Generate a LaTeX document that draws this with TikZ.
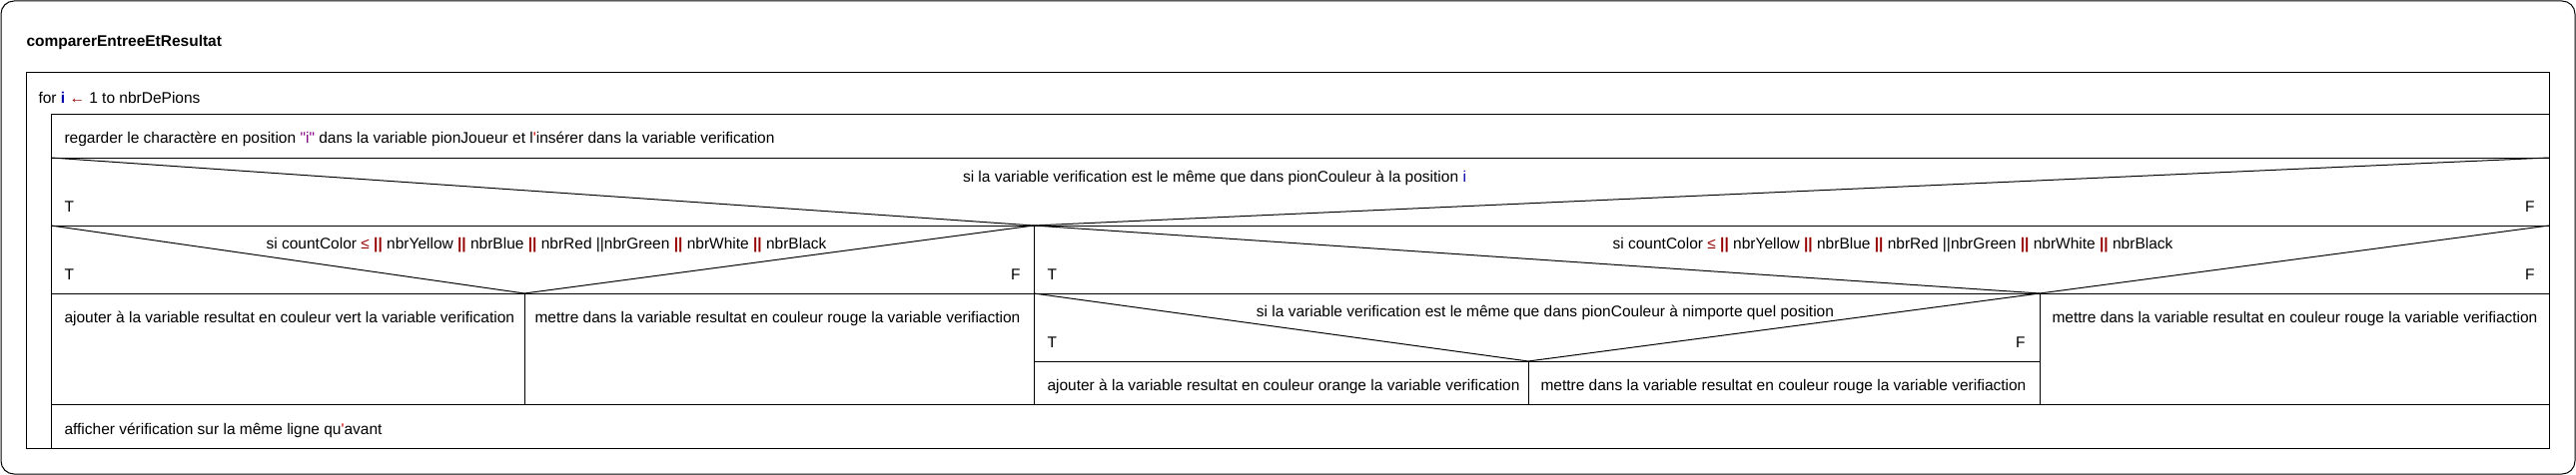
\documentclass[tikz,border=0pt]{standalone}
\usepackage{fontspec}
\setmainfont{Liberation Sans}[Ligatures=TeXOff]
\usetikzlibrary{calc}
\definecolor{opred}{RGB}{150,0,0}
\definecolor{varblue}{RGB}{0,0,170}
\definecolor{strpurple}{RGB}{128,0,128}
\definecolor{quotered}{RGB}{210,0,0}
\newcommand{\orop}{\textcolor{opred}{\textbf{||}}}

\begin{document}
\begin{tikzpicture}[x=1pt, y=-1pt, line width=1pt,
    every node/.style={font=\fontsize{15.5}{18}\selectfont, inner sep=0pt},
    txt/.style={anchor=west},
    cond/.style={anchor=center},
    fl/.style={anchor=east}]
  \useasboundingbox (0,0) rectangle (2579,476);

  % frames
  \draw[rounded corners=13pt] (1,1) rectangle (2578,475);
  \draw (26,73) rectangle (2552,449);
  \draw (51,115) rectangle (2552,449);
  \draw (51,158) -- (2552,158);
  \draw (51,226) -- (2552,226);
  \draw (51,294) -- (2552,294);
  \draw (1035,362) -- (2042,362);
  \draw (51,405) -- (2552,405);
  \draw (1035,226) -- (1035,405);
  \draw (525,294) -- (525,405);
  \draw (2042,294) -- (2042,405);
  \draw (1530,362) -- (1530,405);

  % diagonals of the alternatives
  \draw (51,158) -- (1035,226) -- (2552,158);
  \draw (51,226) -- (525,294) -- (1035,226);
  \draw (1035,226) -- (2042,294) -- (2552,226);
  \draw (1035,294) -- (1530,362) -- (2042,294);

  \node[txt, font=\fontsize{15.5}{18}\selectfont\bfseries] (title) at (26,42) {comparerEntreeEtResultat};
  \node[txt] (for) at (38,98) {for \textcolor{varblue}{\textbf{i}} \textcolor{opred}{←} 1 to nbrDePions};
  \node[txt] (regarder) at (64,139) {regarder le charactère en position \textcolor{strpurple}{"i"} dans la variable pionJoueur et l\textcolor{quotered}{'}insérer dans la variable verification};

  % first alternative
  \node[cond] (if1) at (1216,178) {si la variable verification est le même que dans pionCouleur à la position \textcolor{varblue}{i}};
  \node[txt] (t1) at (64,207) {T};
  \node[fl] (f1) at (2538,207) {F};

  % second alternatives
  \node[cond] (if2) at (547,246) {si countColor \textcolor{opred}{≤} \orop{} nbrYellow \orop{} nbrBlue \orop{} nbrRed ||nbrGreen \orop{} nbrWhite \orop{} nbrBlack};
  \node[txt] (t2) at (64,275) {T};
  \node[fl] (f2) at (1022,275) {F};
  \node[cond] (if3) at (1895,246) {si countColor \textcolor{opred}{≤} \orop{} nbrYellow \orop{} nbrBlue \orop{} nbrRed ||nbrGreen \orop{} nbrWhite \orop{} nbrBlack};
  \node[txt] (t3) at (1048,275) {T};
  \node[fl] (f3) at (2538,275) {F};

  \node[txt] (vert) at (64,319) {ajouter à la variable resultat en couleur vert la variable verification};
  \node[txt] (rouge1) at (535,319) {mettre dans la variable resultat en couleur rouge la variable verifiaction};

  % nested alternative
  \node[cond] (if4) at (1547,313) {si la variable verification est le même que dans pionCouleur à nimporte quel position};
  \node[txt] (t4) at (1048,343) {T};
  \node[fl] (f4) at (2028,343) {F};
  \node[txt] (orange) at (1048,387) {ajouter à la variable resultat en couleur orange la variable verification};
  \node[txt] (rouge2) at (1542,387) {mettre dans la variable resultat en couleur rouge la variable verifiaction};
  \node[txt] (rouge3) at (2054,319) {mettre dans la variable resultat en couleur rouge la variable verifiaction};

  \node[txt] (afficher) at (64,431) {afficher vérification sur la même ligne qu\textcolor{quotered}{'}avant};
\end{tikzpicture}
\end{document}
